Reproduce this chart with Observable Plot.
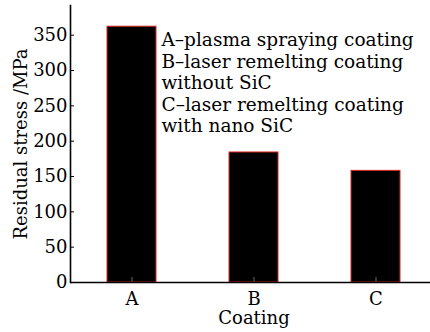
<!DOCTYPE html>
<html><head><meta charset="utf-8">
<script src="https://cdn.jsdelivr.net/npm/d3@7"></script>
<script src="https://cdn.jsdelivr.net/npm/@observablehq/plot@0.6"></script>
<style>body{margin:0;background:#fff}</style>
</head><body><div id="chart"></div>
<script>
const categories = ["A", "B", "C"];
const stress = [362, 184, 158];
const yTicks = [0, 50, 100, 150, 200, 250, 300, 350];
const legendLines = ["A–plasma spraying coating", "B–laser remelting coating", "without SiC", "C–laser remelting coating", "with nano SiC"];
const xTitle = "Coating";
const yTitle = "Residual stress /MPa";

const data = categories.map((c, i) => ({coating: c, stress: stress[i]}));

const chart = Plot.plot({
  width: 430, height: 332,
  marginLeft: 70, marginRight: 0, marginTop: 5, marginBottom: 50,
  style: {fontFamily: "'DejaVu Serif', serif", fontSize: "17.5px", color: "#000", background: "#fff"},
  x: {domain: categories, range: [70, 436], paddingInner: 0.6, paddingOuter: 0.3, align: 0.5},
  y: {domain: [0, 392]},
  marks: [
    Plot.barY(data, {x: "coating", y: "stress", fill: "#000", stroke: "#d8281e", strokeWidth: 1}),
    Plot.axisX({tickSize: -5, tickPadding: 15, stroke: "#666", fill: "#000", label: null, fontSize: 18}),
    Plot.axisY({ticks: yTicks, tickSize: -4, tickPadding: 7, label: null, fontSize: 18}),
    Plot.frame({anchor: "left", strokeWidth: 1.6}),
    Plot.ruleY([0], {strokeWidth: 1.6}),
    Plot.text([legendLines.join("\n")], {frameAnchor: "top-left", dx: 91, dy: 25, textAnchor: "start", lineAnchor: "top", lineHeight: 1.17, fontSize: 18.5}),
    Plot.text([xTitle], {x: () => "B", frameAnchor: "bottom", dy: 36, lineAnchor: "middle", fontSize: 18}),
    Plot.text([yTitle], {frameAnchor: "left", dx: -49, rotate: -90, lineAnchor: "middle", textAnchor: "middle", fontSize: 18})
  ]
});
document.getElementById("chart").append(chart);
</script>
</body></html>
